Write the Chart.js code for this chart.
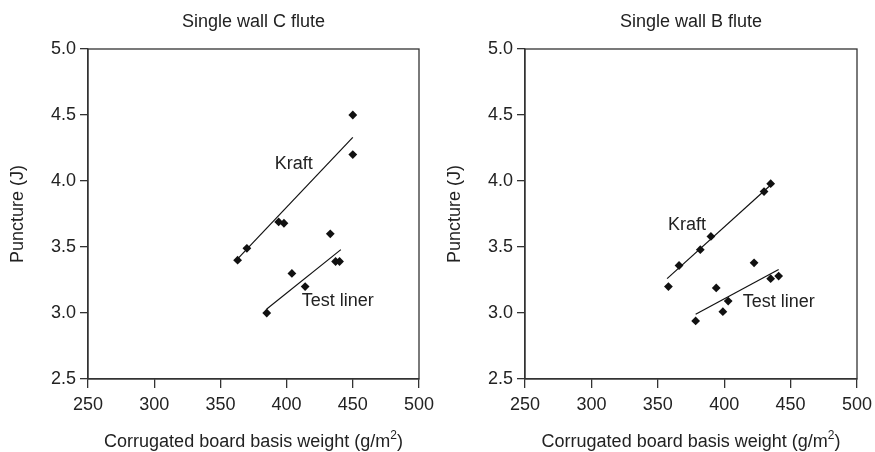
<!DOCTYPE html>
<html>
<head>
<meta charset="utf-8">
<script src="https://cdn.jsdelivr.net/npm/chart.js@4.4.0/dist/chart.umd.min.js"></script>
<style>
  body { margin: 0; background: #fff; }
  .wrap { display: flex; width: 875px; height: 452px; }
  canvas { display: block; }
</style>
</head>
<body>
<div class="wrap">
  <canvas id="chartC" width="437" height="452"></canvas>
  <canvas id="chartB" width="438" height="452"></canvas>
</div>
<script>
// tick labels
const xTicks = [250, 300, 350, 400, 450, 500];
const yTicks = [2.5, 3.0, 3.5, 4.0, 4.5, 5.0];

// Single wall C flute
const cKraftX = [363, 370, 394, 398, 450, 450];
const cKraftY = [3.40, 3.49, 3.69, 3.68, 4.50, 4.20];
const cTestX = [385, 404, 414, 433, 437, 440];
const cTestY = [3.00, 3.30, 3.20, 3.60, 3.39, 3.39];
const cKraftFit = [[363, 3.41], [450, 4.33]];
const cTestFit = [[385, 3.03], [441, 3.48]];

// Single wall B flute
const bKraftX = [358, 366, 382, 390, 430, 435];
const bKraftY = [3.20, 3.36, 3.48, 3.58, 3.92, 3.98];
const bTestX = [378.5, 394, 399, 403, 422.5, 435, 441];
const bTestY = [2.94, 3.19, 3.01, 3.09, 3.38, 3.26, 3.28];
const bKraftFit = [[357, 3.26], [435, 3.97]];
const bTestFit = [[378.5, 2.99], [441, 3.33]];

const FONT = '"Liberation Sans", Arial, sans-serif';
const INK = '#222';

function toPoints(xs, ys) {
  return xs.map((x, i) => ({ x: x, y: ys[i] }));
}

// draws box, titles and the series labels
const decorations = {
  id: 'decorations',
  afterDraw(chart, args, opts) {
    const ctx = chart.ctx;
    const a = chart.chartArea;
    const sx = chart.scales.x, sy = chart.scales.y;
    const cx = (a.left + a.right) / 2;
    ctx.save();
    ctx.strokeStyle = '#333';
    ctx.lineWidth = 1.3;
    ctx.strokeRect(a.left, a.top, a.right - a.left, a.bottom - a.top);

    ctx.fillStyle = INK;
    ctx.font = '18px ' + FONT;
    ctx.textAlign = 'center';
    ctx.textBaseline = 'alphabetic';
    ctx.fillText(opts.title, cx, 27);

    // x axis title with superscript
    const main = 'Corrugated board basis weight (g/m';
    ctx.font = '18px ' + FONT;
    const w1 = ctx.measureText(main).width;
    ctx.font = '12px ' + FONT;
    const w2 = ctx.measureText('2').width;
    ctx.font = '18px ' + FONT;
    const w3 = ctx.measureText(')').width;
    let x0 = cx - (w1 + w2 + w3) / 2;
    ctx.textAlign = 'left';
    ctx.fillText(main, x0, 447);
    ctx.font = '12px ' + FONT;
    ctx.fillText('2', x0 + w1, 439);
    ctx.font = '18px ' + FONT;
    ctx.fillText(')', x0 + w1 + w2, 447);

    // y axis title
    ctx.save();
    ctx.translate(23, (a.top + a.bottom) / 2);
    ctx.rotate(-Math.PI / 2);
    ctx.textAlign = 'center';
    ctx.fillText('Puncture (J)', 0, 0);
    ctx.restore();

    // series labels
    ctx.textAlign = 'left';
    ctx.textBaseline = 'middle';
    opts.labels.forEach(l => {
      ctx.fillText(l.text, sx.getPixelForValue(l.x), sy.getPixelForValue(l.y));
    });
    ctx.restore();
  }
};

function makeChart(id, title, kX, kY, tX, tY, kFit, tFit, labels) {
  const pointStyle = {
    type: 'scatter',
    pointStyle: 'rectRot',
    pointRadius: 4.4,
    backgroundColor: '#111',
    borderColor: '#111',
    borderWidth: 0
  };
  const lineStyle = {
    type: 'line',
    showLine: true,
    pointRadius: 0,
    borderColor: '#111',
    borderWidth: 1.2,
    fill: false
  };
  return new Chart(document.getElementById(id), {
    type: 'scatter',
    data: {
      datasets: [
        Object.assign({ data: toPoints(kX, kY) }, pointStyle),
        Object.assign({ data: toPoints(tX, tY) }, pointStyle),
        Object.assign({ data: kFit.map(p => ({ x: p[0], y: p[1] })) }, lineStyle),
        Object.assign({ data: tFit.map(p => ({ x: p[0], y: p[1] })) }, lineStyle)
      ]
    },
    options: {
      responsive: false,
      animation: false,
      layout: { autoPadding: false, padding: { top: 49, right: 18, left: 0, bottom: 0 } },
      plugins: {
        legend: { display: false },
        tooltip: { enabled: false },
        decorations: { title: title, labels: labels }
      },
      scales: {
        x: {
          type: 'linear',
          min: 250, max: 500,
          afterBuildTicks: s => { s.ticks = xTicks.map(v => ({ value: v })); },
          afterFit: s => { s.height = 73; s.paddingLeft = 0; s.paddingRight = 0; },
          ticks: { color: INK, font: { family: FONT, size: 18 }, padding: 6, maxRotation: 0 },
          grid: { drawOnChartArea: false, tickLength: 9, color: '#333', lineWidth: 1.3 },
          border: { color: '#333', width: 1.3 }
        },
        y: {
          type: 'linear',
          min: 2.5, max: 5,
          afterBuildTicks: s => { s.ticks = yTicks.map(v => ({ value: v })); },
          afterFit: s => { s.width = 88; s.paddingTop = 0; s.paddingBottom = 0; },
          ticks: { color: INK, font: { family: FONT, size: 18 }, padding: 4, callback: v => v.toFixed(1) },
          grid: { drawOnChartArea: false, tickLength: 8, color: '#333', lineWidth: 1.3 },
          border: { color: '#333', width: 1.3 }
        }
      }
    },
    plugins: [decorations]
  });
}

makeChart('chartC', 'Single wall C flute', cKraftX, cKraftY, cTestX, cTestY, cKraftFit, cTestFit, [
  { text: 'Kraft', x: 391, y: 4.13 },
  { text: 'Test liner', x: 411.5, y: 3.09 }
]);
makeChart('chartB', 'Single wall B flute', bKraftX, bKraftY, bTestX, bTestY, bKraftFit, bTestFit, [
  { text: 'Kraft', x: 357.6, y: 3.67 },
  { text: 'Test liner', x: 414, y: 3.08 }
]);
</script>
</body>
</html>
